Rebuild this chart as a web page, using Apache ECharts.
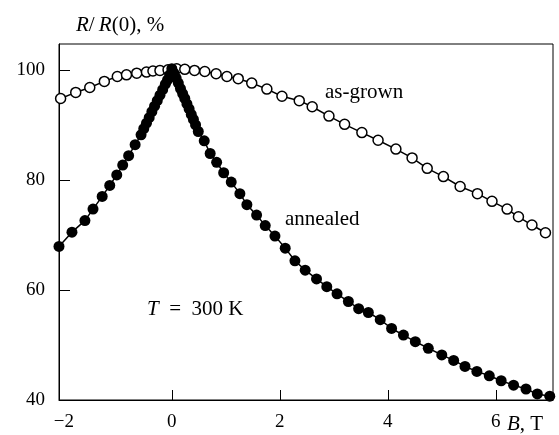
<html>
<head>
<meta charset="UTF-8">
<title>R/R(0) vs B</title>
<script src="https://cdn.jsdelivr.net/npm/echarts@6/dist/echarts.min.js"></script>
<style>
  html, body { margin: 0; padding: 0; background: #fff; }
  #main { width: 559px; height: 435px; }
</style>
</head>
<body>
<div id="main"></div>
<script type="text/javascript">
// as-grown sample: B (T) and R/R(0) (%)
var grownB = [-2.06, -1.78, -1.52, -1.25, -1.01, -0.84, -0.65, -0.47, -0.35, -0.22, -0.07, 0.09,
              0.24, 0.42, 0.61, 0.82, 1.02, 1.23, 1.48, 1.76, 2.04, 2.36, 2.60, 2.91, 3.20,
              3.52, 3.82, 4.15, 4.45, 4.73, 5.03, 5.34, 5.66, 5.93, 6.21, 6.42, 6.67, 6.92];
var grownR = [94.8, 95.9, 96.8, 97.9, 98.8, 99.1, 99.4, 99.6, 99.8, 99.9, 100.0, 100.2,
              100.1, 99.9, 99.7, 99.3, 98.8, 98.4, 97.6, 96.5, 95.2, 94.4, 93.3, 91.6, 90.1,
              88.6, 87.2, 85.6, 84.0, 82.1, 80.6, 78.8, 77.5, 76.1, 74.7, 73.3, 71.8, 70.4];

// annealed sample
var annealB = [-2.09, -1.85, -1.61, -1.46, -1.29, -1.15, -1.02, -0.91, -0.80, -0.68, -0.57,
               -0.52, -0.47, -0.42, -0.37, -0.32, -0.27, -0.22, -0.17, -0.12, -0.08, -0.04, 0.0,
               0.04, 0.08, 0.12, 0.16, 0.20, 0.24, 0.28, 0.32, 0.36, 0.40, 0.44,
               0.49, 0.60, 0.71, 0.83, 0.96, 1.10, 1.26, 1.39, 1.57, 1.73, 1.91, 2.10, 2.28,
               2.47, 2.68, 2.87, 3.06, 3.27, 3.46, 3.64, 3.86, 4.07, 4.29, 4.51, 4.75, 5.00,
               5.22, 5.43, 5.65, 5.88, 6.10, 6.33, 6.56, 6.77, 7.00];
var annealR = [67.9, 70.5, 72.6, 74.7, 77.0, 79.0, 80.9, 82.7, 84.4, 86.4, 88.2,
               89.3, 90.3, 91.3, 92.4, 93.4, 94.4, 95.4, 96.4, 97.4, 98.2, 99.1, 100.2,
               99.4, 98.5, 97.6, 96.6, 95.7, 94.8, 93.8, 92.9, 91.9, 91.0, 90.0,
               88.8, 87.1, 84.8, 83.2, 81.3, 79.6, 77.5, 75.5, 73.6, 71.7, 69.8, 67.6, 65.3,
               63.6, 62.0, 60.6, 59.3, 57.9, 56.6, 55.9, 54.6, 53.0, 51.8, 50.6, 49.4, 48.2,
               47.2, 46.1, 45.2, 44.4, 43.5, 42.7, 42.0, 41.1, 40.7];

var xTicks = [-2, 0, 2, 4, 6];
var yTicks = [40, 60, 80, 100];

function pairs(xs, ys) {
  var out = [];
  for (var i = 0; i < xs.length; i++) out.push([xs[i], ys[i]]);
  return out;
}

var myChart = echarts.init(document.getElementById('main'));
var font = '"Liberation Serif", "Times New Roman", serif';
var ital = { i: { fontStyle: 'italic', fontFamily: font, fontSize: 21 } };

var option = {
  animation: false,
  backgroundColor: '#fff',
  grid: {
    left: 59, top: 44, right: 6, bottom: 35,
    show: true, borderColor: '#000', borderWidth: 1
  },
  xAxis: {
    type: 'value',
    min: -2.09, max: 7.06,
    axisLine: { onZero: false, lineStyle: { color: '#000', width: 1 } },
    axisTick: { inside: true, length: 10, customValues: [0, 2, 4, 6], lineStyle: { color: '#000' } },
    axisLabel: {
      customValues: xTicks, margin: 13, color: '#000', fontFamily: font, fontSize: 19,
      formatter: function (v) { return v < 0 ? '\u2212' + Math.abs(v) : String(v); }
    },
    splitLine: { show: false }
  },
  yAxis: {
    type: 'value',
    min: 40, max: 104.7,
    axisLine: { show: true, onZero: false, lineStyle: { color: '#000', width: 1 } },
    axisTick: { show: true, inside: true, length: 11, customValues: [60, 80, 100], lineStyle: { color: '#000' } },
    axisLabel: { customValues: yTicks, margin: 14, color: '#000', fontFamily: font, fontSize: 19 },
    splitLine: { show: false }
  },
  graphic: [
    {
      type: 'text', left: 76, top: 15,
      style: { text: '{i|R}/\u2009{i|R}(0), %', font: '21px ' + font, fill: '#000', rich: ital }
    },
    {
      type: 'text', left: 507, top: 414,
      style: { text: '{i|B}, T', font: '21px ' + font, fill: '#000', rich: ital }
    },
    { type: 'text', left: 325, top: 82, style: { text: 'as-grown', font: '21px ' + font, fill: '#000' } },
    { type: 'text', left: 285, top: 209, style: { text: 'annealed', font: '21px ' + font, fill: '#000' } },
    {
      type: 'text', left: 147, top: 299,
      style: { text: '{i|T}\u2002=\u2002300 K', font: '21px ' + font, fill: '#000', rich: ital }
    }
  ],
  series: [
    {
      name: 'as-grown', type: 'line', data: pairs(grownB, grownR),
      symbol: 'circle', symbolSize: 10, showAllSymbol: true,
      lineStyle: { color: '#000', width: 1.5 },
      itemStyle: { color: '#fff', borderColor: '#000', borderWidth: 1.5 }
    },
    {
      name: 'annealed', type: 'line', data: pairs(annealB, annealR),
      symbol: 'circle', symbolSize: 11, showAllSymbol: true,
      lineStyle: { color: '#000', width: 1.5 },
      itemStyle: { color: '#000', borderColor: '#000', borderWidth: 0 }
    }
  ]
};
myChart.setOption(option);
</script>
</body>
</html>
